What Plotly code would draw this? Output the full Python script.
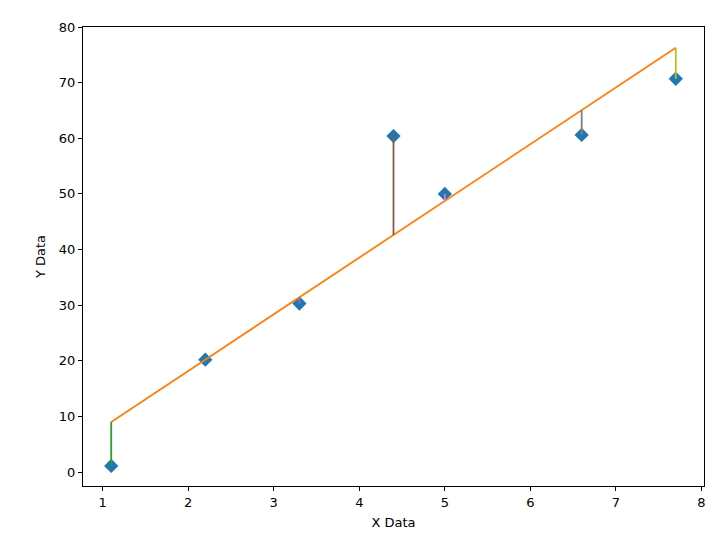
import numpy as np
import plotly.graph_objects as go

x_data = [1.1, 2.2, 3.3, 4.4, 5.0, 6.6, 7.7]
y_data = [1.1, 20.2, 30.3, 60.4, 50.0, 60.6, 70.7]
resid_colors = ["#2ca02c", "#d62728", "#9467bd", "#8c564b", "#e377c2", "#7f7f7f", "#bcbd22"]
x_ticks = [1, 2, 3, 4, 5, 6, 7, 8]
y_ticks = [0, 10, 20, 30, 40, 50, 60, 70, 80]

slope, intercept = np.polyfit(x_data, y_data, 1)
y_fit = [slope * xv + intercept for xv in x_data]

fig = go.Figure()
fig.add_trace(go.Scatter(x=x_data, y=y_data, mode="markers",
                         marker=dict(symbol="diamond", size=11, color="#1f77b4"),
                         showlegend=False))
fig.add_trace(go.Scatter(x=x_data, y=y_fit, mode="lines",
                         line=dict(color="#ff7f0e", width=1.8), showlegend=False))
for xv, yv, yf, c in zip(x_data, y_data, y_fit, resid_colors):
    fig.add_trace(go.Scatter(x=[xv, xv], y=[yv, yf], mode="lines",
                             line=dict(color=c, width=1.8), showlegend=False))

axis_common = dict(showgrid=False, zeroline=False, showline=True, linecolor="black",
                   linewidth=1, mirror=True, ticks="outside", ticklen=4, tickcolor="black",
                   tickfont=dict(family="DejaVu Sans", size=13, color="black"))
fig.update_xaxes(range=[0.77, 8.03], tickvals=x_ticks,
                 title=dict(text="X Data", font=dict(family="DejaVu Sans", size=13, color="black"), standoff=9),
                 **axis_common)
fig.update_yaxes(range=[-2.5, 80.0], tickvals=y_ticks,
                 title=dict(text="Y Data", font=dict(family="DejaVu Sans", size=13, color="black"), standoff=10),
                 **axis_common)
fig.update_layout(width=719, height=539, margin=dict(l=75, r=23, t=17, b=61),
                  plot_bgcolor="white", paper_bgcolor="white")
fig.write_html("out.html")
